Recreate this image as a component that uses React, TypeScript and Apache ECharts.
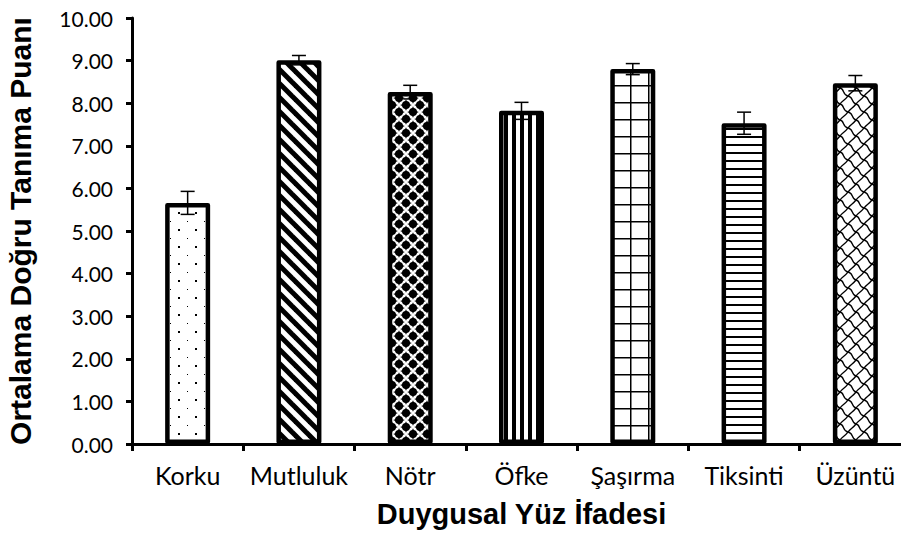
import React, { useEffect, useRef } from 'react';
import * as echarts from 'echarts';

const categories = ['Korku', 'Mutluluk', 'Nötr', 'Öfke', 'Şaşırma', 'Tiksinti', 'Üzüntü'];
const means = [5.66, 9.01, 8.26, 7.82, 8.8, 7.53, 8.47];
const errors = [0.27, 0.11, 0.16, 0.2, 0.13, 0.26, 0.18];
const patternKinds = ['dots', 'diag', 'checker', 'vstripes', 'grid', 'hstripes', 'waves'];

function makePattern(kind: string): HTMLCanvasElement {
  const c = document.createElement('canvas');
  let w = 12, h = 12;
  if (kind === 'dots') { w = 17; h = 17; }
  if (kind === 'diag') { w = 14; h = 14; }
  if (kind === 'checker') { w = 14; h = 14; }
  if (kind === 'vstripes' || kind === 'hstripes') { w = 8; h = 8; }
  if (kind === 'grid') { w = 18; h = 17; }
  if (kind === 'waves') { w = 16; h = 16; }
  c.width = w; c.height = h;
  const ctx = c.getContext('2d')!;
  ctx.fillStyle = '#fff';
  ctx.fillRect(0, 0, w, h);
  ctx.fillStyle = '#000';
  ctx.strokeStyle = '#000';
  if (kind === 'dots') {
    ctx.fillRect(8, 8, 2, 2);
    ctx.fillRect(0, 0, 1, 1);
  } else if (kind === 'diag') {
    ctx.lineWidth = 5;
    for (let k = -1; k <= 1; k++) {
      ctx.beginPath();
      ctx.moveTo(-3, -3 + 14 * k);
      ctx.lineTo(17, 17 + 14 * k);
      ctx.stroke();
    }
  } else if (kind === 'checker') {
    const pts = [[7, 0], [0, 7], [14, 7], [7, 14]];
    pts.forEach(([x, y]) => {
      ctx.beginPath();
      ctx.moveTo(x, y - 5.8);
      ctx.quadraticCurveTo(x + 1.5, y - 1.5, x + 5.8, y);
      ctx.quadraticCurveTo(x + 1.5, y + 1.5, x, y + 5.8);
      ctx.quadraticCurveTo(x - 1.5, y + 1.5, x - 5.8, y);
      ctx.quadraticCurveTo(x - 1.5, y - 1.5, x, y - 5.8);
      ctx.fill();
      ctx.beginPath();
      ctx.arc(x, y, 4, 0, Math.PI * 2);
      ctx.fill();
    });
  } else if (kind === 'vstripes') {
    ctx.fillRect(0, 0, 4, 8);
  } else if (kind === 'hstripes') {
    ctx.fillRect(0, 0, 8, 2);
  } else if (kind === 'grid') {
    ctx.fillRect(0, 0, 1.5, h);
    ctx.fillRect(0, 0, w, 1.5);
  } else if (kind === 'waves') {
    ctx.lineWidth = 1.3;
    for (let k = -1; k <= 1; k++) {
      ctx.beginPath();
      ctx.moveTo(0, 0 + 16 * k);
      ctx.bezierCurveTo(6, 1 + 16 * k, 3, 7 + 16 * k, 8, 8 + 16 * k);
      ctx.bezierCurveTo(13, 9 + 16 * k, 10, 15 + 16 * k, 16, 16 + 16 * k);
      ctx.stroke();
    }
    ctx.beginPath();
    ctx.moveTo(8, 8);
    ctx.bezierCurveTo(10, 5, 13, 4, 16, 0);
    ctx.stroke();
    ctx.beginPath();
    ctx.moveTo(0, 16);
    ctx.bezierCurveTo(2, 13, 5, 12, 8, 8);
    ctx.stroke();
  }
  return c;
}

export default function App() {
  const ref = useRef<HTMLDivElement>(null);
  useEffect(() => {
    if (!ref.current) return;
    const chart = echarts.init(ref.current, undefined, { renderer: 'svg' });
    const barData = means.map((v, i) => ({
      value: v,
      itemStyle: {
        color: { image: makePattern(patternKinds[i]), repeat: 'repeat' } as any,
        borderColor: '#000',
        borderWidth: 4.5,
        borderJoin: 'round',
      },
    }));
    const errData = means.map((v, i) => [i, v - errors[i], v + errors[i]]);
    chart.setOption({
      animation: false,
      backgroundColor: '#fff',
      grid: { left: 132, right: -10, top: 18, bottom: 91, containLabel: false, outerBoundsMode: 'none' } as any,
      xAxis: {
        type: 'category',
        data: categories,
        name: 'Duygusal Yüz İfadesi',
        nameLocation: 'middle',
        nameGap: 55,
        nameTextStyle: { fontFamily: 'Liberation Sans', fontWeight: 'bold', fontSize: 29, color: '#000' },
        axisLine: { lineStyle: { color: '#000', width: 3 } },
        axisTick: { show: true, length: 7, lineStyle: { color: '#000', width: 3 } },
        axisLabel: { color: '#000', fontFamily: 'Lato', fontSize: 25, margin: 18, interval: 0 },
      },
      yAxis: {
        type: 'value',
        min: 0,
        max: 10,
        interval: 1,
        name: 'Ortalama Doğru Tanıma Puanı',
        nameLocation: 'middle',
        nameGap: 97,
        nameRotate: 90,
        nameTextStyle: { fontFamily: 'Liberation Sans', fontWeight: 'bold', fontSize: 30, color: '#000' },
        splitLine: { show: false },
        axisLine: { show: true, lineStyle: { color: '#000', width: 3 } },
        axisTick: { show: true, length: 6, lineStyle: { color: '#000', width: 3 } },
        axisLabel: {
          color: '#000',
          fontFamily: 'Lato',
          fontSize: 21,
          margin: 19,
          formatter: (v: number) => v.toFixed(2),
        },
      },
      series: [
        {
          type: 'bar',
          data: barData,
          barWidth: 45,
        },
        {
          type: 'custom',
          z: 5,
          data: errData,
          renderItem: (params: any, api: any) => {
            const x = api.value(0);
            const pLo = api.coord([x, api.value(1)]);
            const pHi = api.coord([x, api.value(2)]);
            const hw = 7;
            const st = { stroke: '#000', lineWidth: 1.5 };
            return {
              type: 'group',
              children: [
                { type: 'line', shape: { x1: pHi[0], y1: pHi[1], x2: pLo[0], y2: pLo[1] }, style: st },
                { type: 'line', shape: { x1: pHi[0] - hw, y1: pHi[1], x2: pHi[0] + hw, y2: pHi[1] }, style: st },
                { type: 'line', shape: { x1: pLo[0] - hw, y1: pLo[1], x2: pLo[0] + hw, y2: pLo[1] }, style: st },
              ],
            };
          },
        },
      ],
    });
    return () => chart.dispose();
  }, []);
  return <div ref={ref} style={{ position: 'fixed', left: 0, top: 0, width: 901, height: 535 }} />;
}
